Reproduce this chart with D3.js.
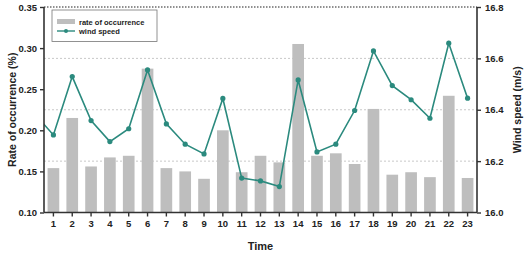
<!DOCTYPE html>
<html>
<head>
<meta charset="utf-8">
<script src="https://d3js.org/d3.v7.min.js"></script>
<style>
  body { margin: 0; background: #fff; }
  text { font-family: "Liberation Sans", Arial, sans-serif; font-weight: bold; fill: #222; }
</style>
</head>
<body>
<script>
// chart data
var times = d3.range(1, 24);
var rate = [0.154, 0.215, 0.156, 0.167, 0.169, 0.275, 0.154, 0.150, 0.141, 0.200,
            0.149, 0.169, 0.161, 0.305, 0.169, 0.172, 0.159, 0.226, 0.146, 0.149,
            0.143, 0.242, 0.142];
var wind = [16.302, 16.529, 16.358, 16.276, 16.326, 16.555, 16.345, 16.266, 16.228, 16.444,
            16.134, 16.123, 16.101, 16.516, 16.236, 16.266, 16.397, 16.629, 16.494, 16.439,
            16.367, 16.659, 16.445];
var windLead = 16.384;   // value before time 1, line runs in from the left edge
var leftTicks = [0.10, 0.15, 0.20, 0.25, 0.30, 0.35];
var rightTicks = [16.0, 16.2, 16.4, 16.6, 16.8];

var W = 532, H = 256;
var pL = 44, pR = 477, pT = 7, pB = 212.5;
var teal = "#2b8a7e";

var svg = d3.select("body").append("svg").attr("width", W).attr("height", H);

var x = d3.scaleBand().domain(times).range([pL, pR]).paddingInner(0.38).paddingOuter(0.19);
var y = d3.scaleLinear().domain([0.10, 0.35]).range([pB, pT]);
var y2 = d3.scaleLinear().domain([16.0, 16.8]).range([pB, pT]);
var cx = function (t) { return x(t) + x.bandwidth() / 2; };

// gridlines at right-axis ticks
svg.append("g").selectAll("line").data([16.2, 16.4, 16.6]).enter().append("line")
  .attr("x1", pL).attr("x2", pR)
  .attr("y1", function (d) { return y2(d); }).attr("y2", function (d) { return y2(d); })
  .attr("stroke", "#c8c8c8").attr("stroke-width", 1).attr("stroke-dasharray", "2,2");

// top dotted border
svg.append("line").attr("x1", pL).attr("x2", pR).attr("y1", pT).attr("y2", pT)
  .attr("stroke", "#222").attr("stroke-width", 1.2).attr("stroke-dasharray", "1.5,1.5");

// bars
svg.append("g").selectAll("rect").data(rate).enter().append("rect")
  .attr("x", function (d, i) { return x(times[i]); })
  .attr("width", x.bandwidth())
  .attr("y", function (d) { return y(d); })
  .attr("height", function (d) { return pB - y(d); })
  .attr("fill", "#bebebe");

// wind line, clipped to plot area
svg.append("clipPath").attr("id", "clip").append("rect")
  .attr("x", pL).attr("y", pT).attr("width", pR - pL).attr("height", pB - pT);

var pts = [[cx(1) - x.step(), y2(windLead)]].concat(wind.map(function (d, i) { return [cx(times[i]), y2(d)]; }));
svg.append("path").attr("clip-path", "url(#clip)")
  .attr("d", d3.line()(pts))
  .attr("fill", "none").attr("stroke", teal).attr("stroke-width", 1.6);

svg.append("g").selectAll("circle").data(wind).enter().append("circle")
  .attr("cx", function (d, i) { return cx(times[i]); })
  .attr("cy", function (d) { return y2(d); })
  .attr("r", 2.6).attr("fill", teal);

// axes
var axL = svg.append("g").attr("transform", "translate(" + pL + ",0)")
  .call(d3.axisLeft(y).tickValues(leftTicks).tickFormat(d3.format(".2f")).tickSize(4).tickPadding(3));
var axR = svg.append("g").attr("transform", "translate(" + pR + ",0)")
  .call(d3.axisRight(y2).tickValues(rightTicks).tickFormat(d3.format(".1f")).tickSize(4).tickPadding(4));
var axB = svg.append("g").attr("transform", "translate(0," + pB + ")")
  .call(d3.axisBottom(x).tickSize(4).tickPadding(4));

[axL, axR, axB].forEach(function (a) {
  a.select(".domain").attr("stroke", "#333").attr("stroke-width", 1.6);
  a.selectAll(".tick line").attr("stroke", "#333").attr("stroke-width", 1.4);
  a.selectAll("text").style("font-size", "9.5px").style("font-weight", "bold").attr("fill", "#222");
});
axL.select(".domain").attr("d", "M0," + pB + "V" + pT);
axR.select(".domain").attr("d", "M0," + pB + "V" + pT);
axB.select(".domain").attr("d", "M" + pL + ",0H" + pR);

// axis titles
svg.append("text").attr("transform", "translate(16," + ((pT + pB) / 2) + ") rotate(-90)")
  .attr("text-anchor", "middle").style("font-size", "10.5px").text("Rate of occurrence (%)");
svg.append("text").attr("transform", "translate(521," + ((pT + pB) / 2) + ") rotate(-90)")
  .attr("text-anchor", "middle").style("font-size", "10.5px").text("Wind speed (m/s)");
svg.append("text").attr("x", (pL + pR) / 2).attr("y", 250)
  .attr("text-anchor", "middle").style("font-size", "11px").text("Time");

// legend
var lg = svg.append("g");
lg.append("rect").attr("x", 52).attr("y", 10).attr("width", 105).attr("height", 31.5)
  .attr("fill", "#fff").attr("stroke", "#777").attr("stroke-width", 0.8);
lg.append("rect").attr("x", 57).attr("y", 19).attr("width", 18).attr("height", 5).attr("fill", "#bebebe");
lg.append("line").attr("x1", 57).attr("x2", 75).attr("y1", 31).attr("y2", 31)
  .attr("stroke", teal).attr("stroke-width", 1.4);
lg.append("circle").attr("cx", 66).attr("cy", 31).attr("r", 2).attr("fill", teal);
lg.append("text").attr("x", 79).attr("y", 24.5).style("font-size", "7.5px").text("rate of occurrence");
lg.append("text").attr("x", 79).attr("y", 34).style("font-size", "7.5px").text("wind speed");
</script>
</body>
</html>
